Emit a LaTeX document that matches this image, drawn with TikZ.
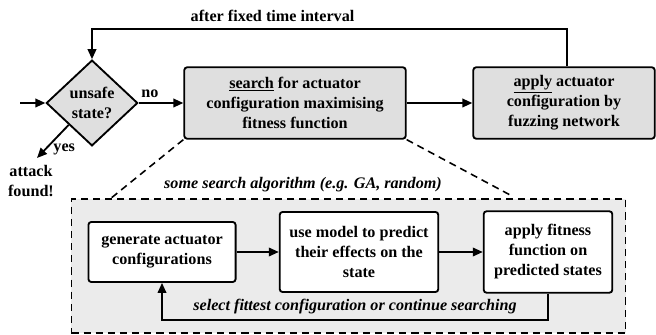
\documentclass[tikz,border=0pt]{standalone}
\usepackage{fontspec}
\setmainfont{Liberation Serif}
\usetikzlibrary{shapes.geometric, positioning, arrows.meta}

\begin{document}
\begin{tikzpicture}[x=0.7pt, y=-0.7pt, line width=1.3pt, >={Triangle[length=7pt, width=6pt]},
	txt/.style={font=\fontsize{11.3}{14}\selectfont\bfseries, align=center},
	topbox/.style={txt, draw, rounded corners=2pt, fill=gray!25, inner sep=0pt},
	innerbox/.style={txt, draw, rounded corners=2pt, fill=white, inner sep=0pt},
	longdash/.style={line width=1.1pt, dash pattern=on 5pt off 3.5pt}]
	\useasboundingbox (0,0) rectangle (656,335);
	% search algorithm area
	\node[draw, longdash, fill=gray!16, minimum width=388pt, minimum height=94pt] at (348.5,266) (algo) {};
	\node[txt, font=\fontsize{11.3}{14}\selectfont\bfseries\itshape] at (303,185) (algolabel) {some search algorithm (e.g. GA, random)};
	% main loop
	\node[txt, draw, shape=diamond, fill=gray!25, inner sep=0pt, minimum width=64pt, minimum height=60pt] at (92,103) (check) {unsafe\\state?};
	\node[topbox, minimum width=155pt, minimum height=50pt] at (295,103) (search) {\underline{search} for actuator\\configuration maximising\\fitness function};
	\node[topbox, minimum width=127pt, minimum height=50pt] at (564,103) (apply) {\underline{apply} actuator\\configuration by\\fuzzing network};
	\node[txt] at (31,181) (found) {attack\\found!};
	\coordinate (start) at (20,103);
	\coordinate (yesend) at (37,158);
	\coordinate (loopright) at (567,29);
	\coordinate (loopleft) at (92,29);
	\draw[->] (start) -- (check);
	\draw[->] (check) -- (search) node[txt, pos=0.25, above] {no};
	\draw[->] (search) -- (apply);
	\draw[->] (check.south west) -- (yesend) node[txt, pos=0.75, right=2pt] {yes};
	\draw[->] (apply.north -| loopright) -- (loopright) -- (loopleft)
		node[txt, pos=0.62, above=1pt] {after fixed time interval} -- (check.north);
	% zoom into the search
	\coordinate (zoomleft) at (110,199);
	\coordinate (zoomright) at (512,196);
	\draw[longdash] (search.south west) -- (zoomleft);
	\draw[longdash] (search.south east) -- (zoomright);
	% inner steps
	\node[innerbox, minimum width=103pt, minimum height=42pt] at (162,252) (generate) {generate actuator\\configurations};
	\node[innerbox, minimum width=111pt, minimum height=56pt] at (359,252) (predict) {use model to predict\\their effects on the\\state};
	\node[innerbox, minimum width=90pt, minimum height=57pt] at (548,252) (fitness) {apply fitness\\function on\\predicted states};
	\coordinate (back) at (548,320);
	\draw[->] (generate) -- (predict);
	\draw[->] (predict) -- (fitness);
	\draw[->] (fitness.south) -- (back) -- (back -| generate.south)
		node[txt, font=\fontsize{11.3}{14}\selectfont\bfseries\itshape, pos=0.5, above] {select fittest configuration or continue searching} -- (generate.south);
\end{tikzpicture}
\end{document}
